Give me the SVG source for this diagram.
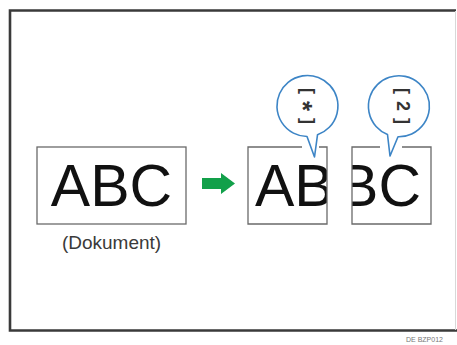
<svg xmlns="http://www.w3.org/2000/svg" width="457" height="345" viewBox="0 0 457 345">
<style>
.frame{fill:none;stroke:#3a3a3a;stroke-width:2.6}
.box{fill:none;stroke:#6a6a6a;stroke-width:1.3}
.big{font-family:"Liberation Sans",Arial,sans-serif;font-size:59px;fill:#111}
.lbl{font-family:"Liberation Sans",Arial,sans-serif;font-size:19px;fill:#3a3a3a}
.call{fill:#fff;stroke:#3d85c6;stroke-width:1.6;stroke-linejoin:round}
.ct{font-family:"Liberation Sans",Arial,sans-serif;font-size:18px;font-weight:bold;fill:#333;letter-spacing:7px}
.star{font-size:26px}
.foot{font-family:"Liberation Sans",Arial,sans-serif;font-size:7px;fill:#777}
</style>
<defs>
<clipPath id="c1"><rect x="248" y="147" width="79" height="77"/></clipPath>
<clipPath id="c2"><rect x="352" y="147" width="79" height="77"/></clipPath>
</defs>
<rect width="457" height="345" fill="#fff"/>
<g id="frame">
<path class="frame" d="M456,10.5 H10 V330.5 H457"/>
<line x1="455.5" y1="11" x2="455.5" y2="330" stroke="#d8d8d8" stroke-width="1"/>
</g>
<g id="original">
<rect class="box" x="37" y="147" width="149" height="77"/>
<text class="big" x="111.5" y="206" text-anchor="middle">ABC</text>
<text class="lbl" x="111.5" y="249" text-anchor="middle">(Dokument)</text>
</g>
<g id="connectors">
<path id="arrow" d="M202,178 H221 V173 L235,183.5 L221,194 V189 H202 Z" fill="#12a04a"/>
</g>
<g id="page1">
<g clip-path="url(#c1)"><text class="big" x="255" y="206">AB</text></g>
<path class="box" d="M302,147 H248 V224 H327 V147 H319"/>
</g>
<g id="page2">
<g clip-path="url(#c2)"><text class="big" x="421" y="206" text-anchor="end">BC</text></g>
<path class="box" d="M380,147 H352 V224 H431 V147 H402"/>
</g>
<g id="callout1">
<path class="call" d="M307,136.5 A30.5,30.5 0 1 1 317.5,134.8 L314.5,157 Z"/>
<text class="ct" transform="translate(308,106) rotate(90)" x="3.5" y="6" text-anchor="middle">[<tspan class="star" dy="8">*</tspan><tspan dy="-8">]</tspan></text>
</g>
<g id="callout2">
<path class="call" d="M387.5,134.5 A30.5,30.5 0 1 1 398,136.7 L390,156 Z"/>
<text class="ct" transform="translate(402.5,106) rotate(90)" x="3.5" y="6" text-anchor="middle">[2]</text>
</g>
<text class="foot" x="406" y="342">DE BZP012</text>
</svg>
